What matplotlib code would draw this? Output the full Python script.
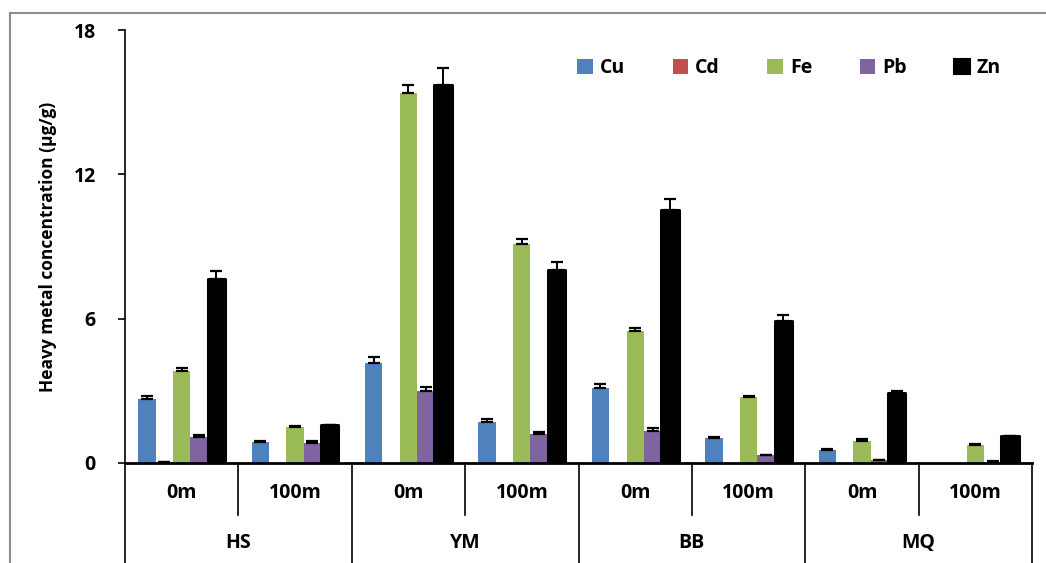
import numpy as np
import matplotlib.pyplot as plt
from matplotlib.patches import Patch
from matplotlib.lines import Line2D

plt.rcParams['font.family'] = ['Open Sans', 'DejaVu Sans']
plt.rcParams['font.weight'] = 'bold'

sites = ["HS", "YM", "BB", "MQ"]
depths = ["0m", "100m"]
metals = ["Cu", "Cd", "Fe", "Pb", "Zn"]
colors = ["#4F81BD", "#C0504D", "#9BBB59", "#8064A2", "#000000"]

# one value per site/depth: HS 0m, HS 100m, YM 0m, YM 100m, BB 0m, BB 100m, MQ 0m, MQ 100m
cu = [2.65, 0.86, 4.17, 1.70, 3.12, 1.02, 0.54, 0.0]
cd = [0.03, 0.0, 0.0, 0.0, 0.0, 0.0, 0.0, 0.0]
fe = [3.81, 1.50, 15.38, 9.10, 5.49, 2.73, 0.93, 0.75]
pb = [1.08, 0.85, 2.99, 1.22, 1.34, 0.32, 0.12, 0.06]
zn = [7.65, 1.57, 15.72, 8.02, 10.52, 5.92, 2.92, 1.12]

cu_err = [0.14, 0.05, 0.24, 0.11, 0.18, 0.07, 0.05, 0.0]
cd_err = [0.0, 0.0, 0.0, 0.0, 0.0, 0.0, 0.0, 0.0]
fe_err = [0.12, 0.03, 0.33, 0.20, 0.14, 0.07, 0.05, 0.05]
pb_err = [0.07, 0.05, 0.17, 0.08, 0.10, 0.03, 0.02, 0.02]
zn_err = [0.32, 0.0, 0.72, 0.33, 0.46, 0.24, 0.06, 0.0]

values = [cu, cd, fe, pb, zn]
errors = [cu_err, cd_err, fe_err, pb_err, zn_err]

fig = plt.figure(figsize=(10.46, 5.63), dpi=100)
W, H = 1046, 563
ax = fig.add_axes([125 / W, 100 / H, (1032 - 125) / W, (463 - 30) / H])

n = len(cu)
x = np.arange(n) + 0.5
w = 0.153
for i, (vals, errs, col) in enumerate(zip(values, errors, colors)):
    pos = x + (i - 2) * w
    vals = np.array(vals)
    errs = np.array(errs)
    if metals[i] == "Zn":
        ax.bar(pos, vals, w, color=col, edgecolor="black", linewidth=2.2,
               joinstyle="round", zorder=3)
    else:
        ax.bar(pos, vals, w, color=col, zorder=2)
    keep = vals > 0
    ax.errorbar(pos[keep], vals[keep], yerr=[np.zeros(keep.sum()), errs[keep]], fmt="none",
                ecolor="black", elinewidth=1.4, capsize=4, capthick=1.6, zorder=4)

ax.set_xlim(0, n)
ax.set_ylim(0, 18)
ax.set_yticks([0, 6, 12, 18])
ax.tick_params(axis="y", direction="out", length=5, width=1.2, labelsize=14, pad=16)
ax.set_xticks([])
for lab in ax.get_yticklabels():
    lab.set_fontweight("bold")
for s in ["top", "right"]:
    ax.spines[s].set_visible(False)
ax.spines["left"].set_linewidth(1.2)
ax.spines["bottom"].set_linewidth(2.0)

ax.set_ylabel("Heavy metal concentration (μg/g)", fontsize=12.5, fontweight="bold", labelpad=12)

# category axis: depth labels, site labels and separators below the plot
trans = ax.get_xaxis_transform()
y_depth = -(493 - 463) / (463 - 30)
y_site = -(543 - 463) / (463 - 30)
y_short = -(515 - 463) / (463 - 30)
y_long = -(563 - 463) / (463 - 30)
for k in range(n):
    ax.text(x[k], y_depth, depths[k % 2], transform=trans, ha="center", va="center",
            fontsize=14, fontweight="bold")
for j, site in enumerate(sites):
    ax.text(2 * j + 1, y_site, site, transform=trans, ha="center", va="center",
            fontsize=14, fontweight="bold")
for k in range(n + 1):
    bottom = y_long if k % 2 == 0 else y_short
    ax.add_line(Line2D([k, k], [0, bottom], transform=trans, color="black",
                       linewidth=1.2, clip_on=False))

handles = []
for m, col in zip(metals, colors):
    if m == "Zn":
        handles.append(Patch(facecolor=col, edgecolor="black", linewidth=1.5, joinstyle="round", label=m))
    else:
        handles.append(Patch(facecolor=col, label=m))
ax.legend(handles=handles, ncol=5, loc="upper right", bbox_to_anchor=(0.985, 0.975),
          frameon=False, handlelength=0.8, handleheight=0.8, handletextpad=0.35,
          columnspacing=2.45, prop={"size": 14, "weight": "bold"})

# grey chart frame
fig.add_artist(Line2D([10 / W, 10 / W], [0, 1 - 13 / H], transform=fig.transFigure,
                      color="#8c8c8c", linewidth=1.5))
fig.add_artist(Line2D([10 / W, 1], [1 - 13 / H, 1 - 13 / H], transform=fig.transFigure,
                      color="#8c8c8c", linewidth=1.5))

fig.savefig("out.png", dpi=100)
